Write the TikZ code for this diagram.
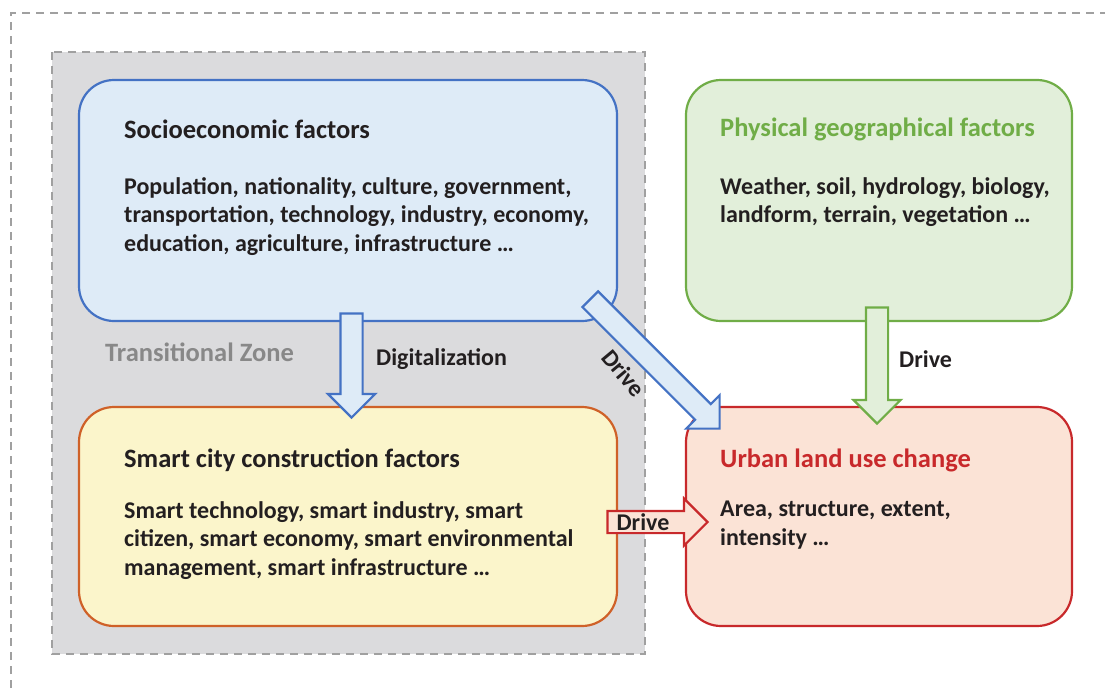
\documentclass[tikz,border=0pt]{standalone}
\usepackage{fontspec}
\setmainfont{Carlito}
\usetikzlibrary{shapes.arrows}

\definecolor{txt}{HTML}{231F20}
\definecolor{zonegray}{HTML}{DBDBDD}
\definecolor{framegray}{HTML}{A0A0A0}
\definecolor{socioline}{HTML}{4472C4}
\definecolor{sociofill}{HTML}{DEEBF7}
\definecolor{physline}{HTML}{70AD47}
\definecolor{physfill}{HTML}{E2EFDA}
\definecolor{smartline}{HTML}{CF6128}
\definecolor{smartfill}{HTML}{FBF5CB}
\definecolor{urbanline}{HTML}{C8292B}
\definecolor{urbanfill}{HTML}{FBE3D6}

\tikzset{
  factorbox/.style={draw,line width=2.2pt,rounded corners=35pt,inner sep=0pt},
  boxtitle/.style={font=\fontsize{26.5}{30}\selectfont\bfseries,text=txt,anchor=west,inner sep=0pt},
  boxbody/.style={font=\fontsize{24}{28.5}\selectfont\bfseries,text=txt,align=left,anchor=north west,inner sep=0pt},
  arrowlabel/.style={font=\fontsize{24}{27}\selectfont\bfseries,text=txt,inner sep=0pt},
  blockarrow/.style={single arrow,draw,line width=2.2pt,inner xsep=0pt,inner ysep=10pt,
    minimum width=45pt,single arrow head extend=12.5pt}
}

\begin{document}
\begin{tikzpicture}[x=1pt,y=-1pt]
  \useasboundingbox (0,0) rectangle (1105,688);

  % outer frame and transitional zone
  \draw[framegray,line width=1.6pt,dash pattern=on 8pt off 6pt] (11,688) -- (11,13) -- (1105,13);
  \draw[framegray,fill=zonegray,line width=1.6pt,dash pattern=on 8pt off 6pt] (52,52) rectangle (645,654);
  \node[font=\fontsize{26.5}{30}\selectfont\bfseries,text=framegray!85!black,anchor=west,inner sep=0pt] (zone) at (105,352) {Transitional Zone};

  % factor boxes
  \node[factorbox,draw=socioline,fill=sociofill,minimum width=538pt,minimum height=241pt] (socio) at (348,200.5) {};
  \node[factorbox,draw=physline,fill=physfill,minimum width=386pt,minimum height=241pt] (phys) at (879,200.5) {};
  \node[factorbox,draw=smartline,fill=smartfill,minimum width=538pt,minimum height=219pt] (smart) at (348,516.5) {};
  \node[factorbox,draw=urbanline,fill=urbanfill,minimum width=386pt,minimum height=219pt] (urban) at (879,516.5) {};

  % texts
  \node[boxtitle] (socio title) at (124,129) {Socioeconomic factors};
  \node[boxbody] (socio body) at (124,177) {Population, nationality, culture, government,\\transportation, technology, industry, economy,\\education, agriculture, infrastructure \dots};
  \node[boxtitle,text=physline] (phys title) at (720,129) {Physical geographical factors};
  \node[boxbody] (phys body) at (720,177) {Weather, soil, hydrology, biology,\\landform, terrain, vegetation \dots};
  \node[boxtitle] (smart title) at (124,460) {Smart city construction factors};
  \node[boxbody] (smart body) at (124,501) {Smart technology, smart industry, smart\\citizen, smart economy, smart environmental\\management, smart infrastructure \dots};
  \node[boxtitle,text=urbanline] (urban title) at (720,460) {Urban land use change};
  \node[boxbody] (urban body) at (720,501) {Area, structure, extent,\\intensity \dots};

  % driving arrows
  \node[blockarrow,draw=socioline,fill=sociofill,minimum height=104pt,rotate=-90] (digital) at (351.5,360) {};
  \node[arrowlabel,anchor=west] (digital label) at (376,359) {Digitalization};
  \node[blockarrow,draw=socioline,fill=sociofill,minimum height=183pt,rotate=-45] (socio drive) at (651,360) {};
  \node[arrowlabel,rotate=-50] (socio drive label) at (624,373) {Drive};
  \node[blockarrow,draw=physline,fill=physfill,minimum height=116pt,rotate=-90] (phys drive) at (877,360) {};
  \node[arrowlabel,anchor=west] (phys drive label) at (899,359) {Drive};
  \node[blockarrow,draw=urbanline,fill=urbanfill,minimum height=100pt] (smart drive) at (652,522) {};
  \node[arrowlabel] (smart drive label) at (643,522) {Drive};
\end{tikzpicture}
\end{document}
